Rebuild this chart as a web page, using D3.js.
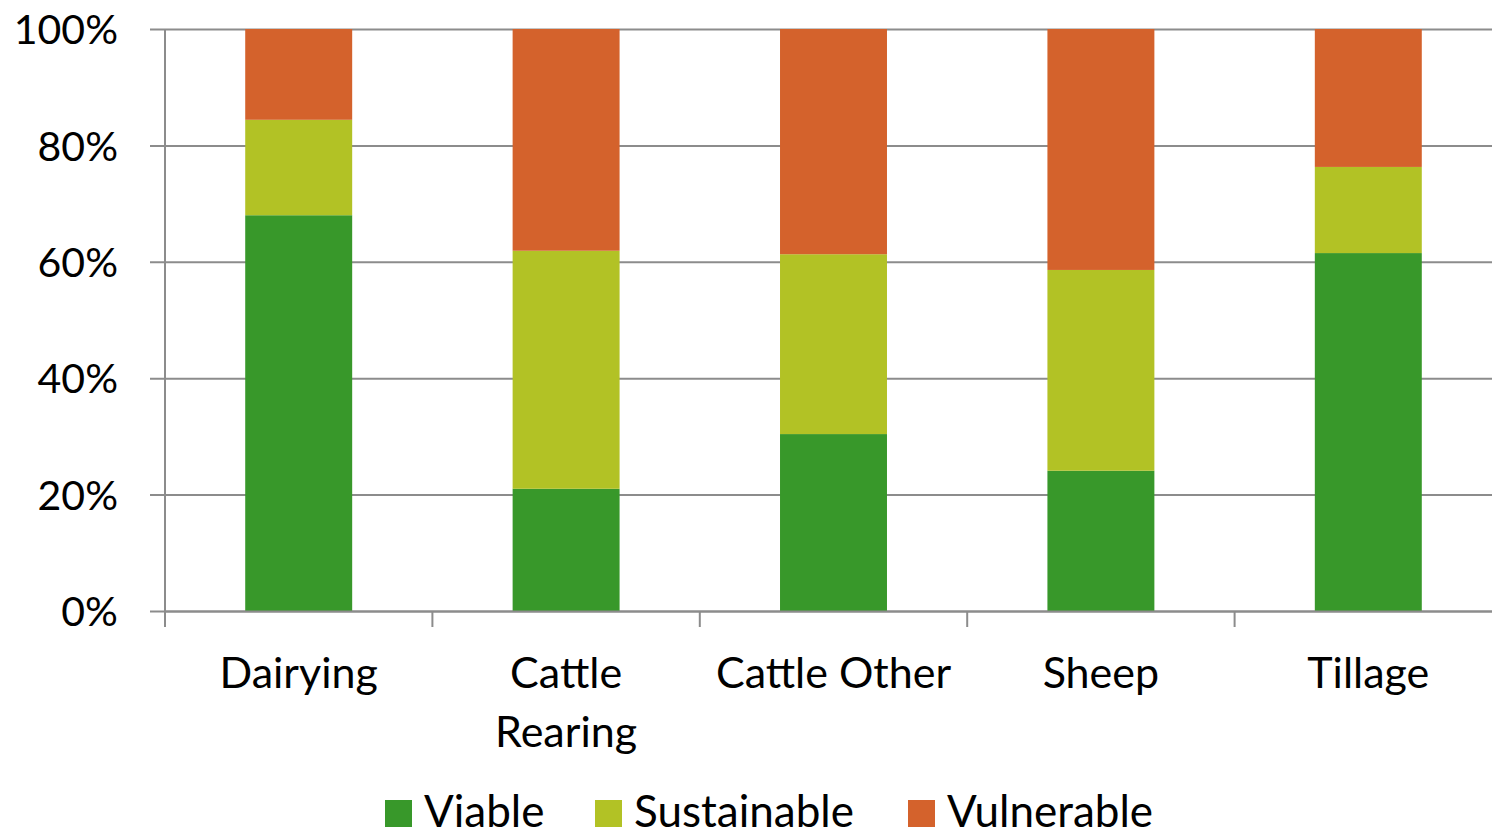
<!DOCTYPE html>
<html>
<head>
<meta charset="utf-8">
<script src="https://cdn.jsdelivr.net/npm/d3@7"></script>
<style>
  html, body { margin: 0; padding: 0; background: #fff; }
  svg { display: block; }
  text { font-family: Lato, "Open Sans", sans-serif; fill: #000; }
</style>
</head>
<body>
<svg id="chart" width="1492" height="830"></svg>
<script>
// Farm types and the share of farms in each viability class (%)
const categories = ["Dairying", "Cattle Rearing", "Cattle Other", "Sheep", "Tillage"];
const categoryLines = [["Dairying"], ["Cattle", "Rearing"], ["Cattle Other"], ["Sheep"], ["Tillage"]];
const viable      = [68.0, 21.0, 30.4, 24.1, 61.5];
const sustainable = [16.4, 40.9, 30.9, 34.5, 14.8];
const vulnerable  = [15.6, 38.1, 38.7, 41.4, 23.7];
const seriesNames = ["Viable", "Sustainable", "Vulnerable"];
const seriesColors = ["#38982a", "#b2c225", "#d4622c"];
const yTicks = [0, 20, 40, 60, 80, 100];

const svg = d3.select("#chart");
// The category band runs slightly past the right edge of the canvas
const plotLeft = 165, plotRight = 1502, gridRight = 1492, plotTop = 29, plotBottom = 611;

const rows = categories.map((c, i) => ({
  category: c,
  Viable: viable[i],
  Sustainable: sustainable[i],
  Vulnerable: vulnerable[i]
}));
const stacked = d3.stack().keys(seriesNames)(rows);

const x = d3.scaleBand().domain(categories).range([plotLeft, plotRight])
  .paddingInner(0.6).paddingOuter(0.3);
const xCat = d3.scaleBand().domain(categories).range([plotLeft, plotRight]).padding(0);
const y = d3.scaleLinear().domain([0, 100]).range([plotBottom, plotTop]);
const color = d3.scaleOrdinal().domain(seriesNames).range(seriesColors);

// Horizontal gridlines with the y axis labels
const gy = svg.append("g").attr("transform", `translate(${gridRight},0)`);
gy.call(d3.axisLeft(y).tickValues(yTicks).tickFormat(d => d + "%")
  .tickSize(gridRight - plotLeft + 15).tickPadding(32));
gy.select(".domain").remove();
gy.selectAll(".tick line").attr("stroke", "#8c8c8c").attr("stroke-width", 2);
gy.selectAll(".tick text")
  .style("font-size", "41px")
  .attr("dy", "0.36em");

// Bars
svg.append("g").selectAll("g").data(stacked).join("g")
  .attr("fill", d => color(d.key))
  .selectAll("rect").data(d => d).join("rect")
  .attr("x", d => x(d.data.category))
  .attr("width", x.bandwidth())
  .attr("y", d => y(d[1]))
  .attr("height", d => y(d[0]) - y(d[1]));

// Vertical axis line
svg.append("line")
  .attr("x1", plotLeft).attr("x2", plotLeft)
  .attr("y1", plotTop).attr("y2", plotBottom + 16)
  .attr("stroke", "#8c8c8c").attr("stroke-width", 2);

// Category axis with tick marks between the groups
const gx = svg.append("g").attr("transform", `translate(0,${plotBottom})`);
gx.call(d3.axisBottom(xCat).tickSize(0).tickFormat(""));
gx.select(".domain").attr("stroke", "#8c8c8c").attr("stroke-width", 2);
gx.selectAll(".sep").data(categories).join("line")
  .attr("class", "sep")
  .attr("x1", d => xCat(d)).attr("x2", d => xCat(d))
  .attr("y1", 0).attr("y2", 16)
  .attr("stroke", "#8c8c8c").attr("stroke-width", 2);

const labels = svg.append("g").selectAll("text").data(categories).join("text")
  .attr("x", d => xCat(d) + xCat.bandwidth() / 2)
  .attr("y", 688)
  .attr("text-anchor", "middle")
  .style("font-size", "43px");
labels.selectAll("tspan").data((d, i) => categoryLines[i]).join("tspan")
  .attr("x", function () { return d3.select(this.parentNode).attr("x"); })
  .attr("dy", (d, i) => i === 0 ? 0 : 59)
  .text(d => d);

// Legend
const legendX = [385, 595, 908];
const legend = svg.append("g").selectAll("g").data(seriesNames).join("g")
  .attr("transform", (d, i) => `translate(${legendX[i]},0)`);
legend.append("rect")
  .attr("x", 0).attr("y", 800).attr("width", 27).attr("height", 27)
  .attr("fill", d => color(d));
legend.append("text")
  .attr("x", 39).attr("y", 827)
  .style("font-size", "44px")
  .text(d => d);
</script>
</body>
</html>
